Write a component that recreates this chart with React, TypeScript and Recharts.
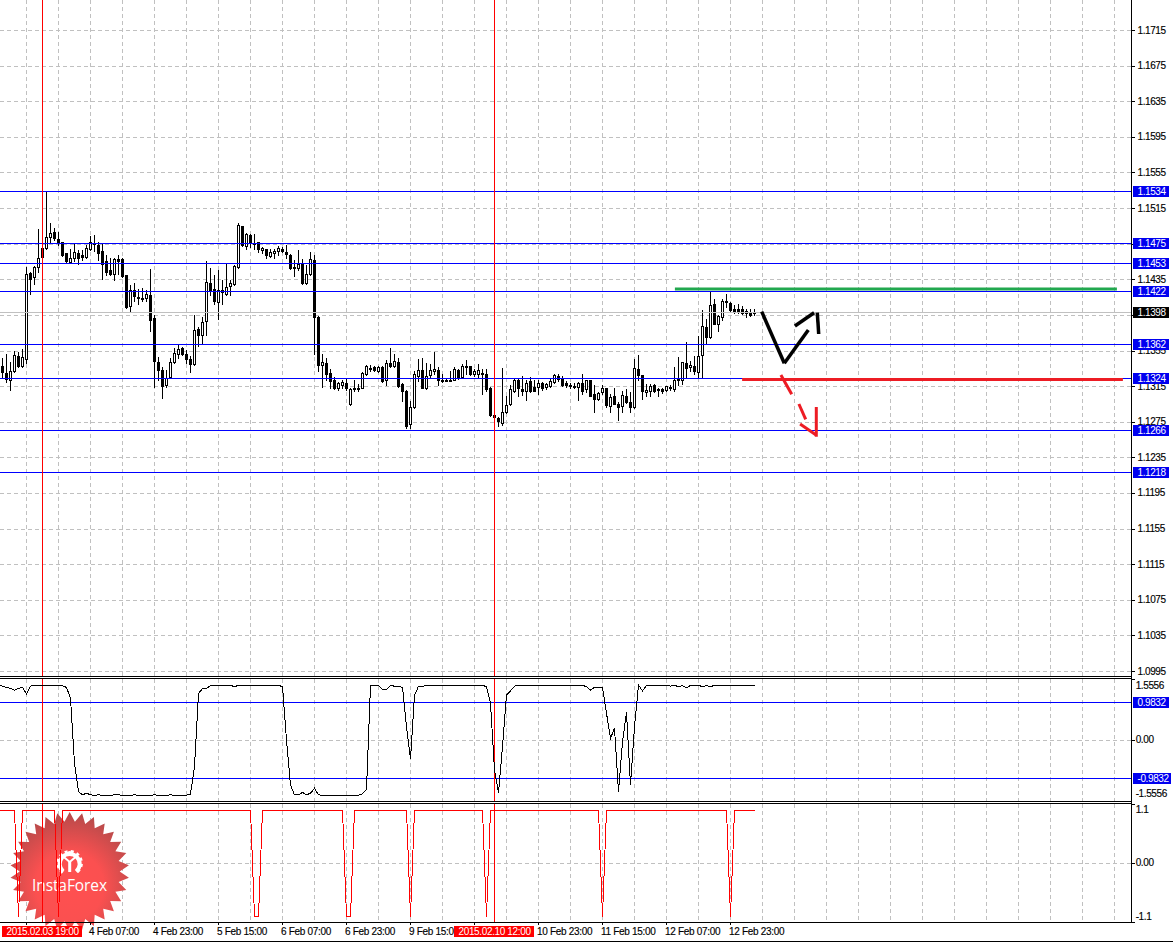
import React from "react";
import { Bar, CartesianGrid, ComposedChart, Line, LineChart, ReferenceLine, XAxis, YAxis } from "recharts";

// Hourly EUR/USD candles, in 1e-4 price units
const opens = [
  11338,11330,11323,11332,11349,11338,11346,11443,11438,11449,
  11471,11471,11483,11489,11481,11477,11465,11455,11460,11465,
  11463,11461,11470,11475,11474,11467,11456,11446,11441,11458,
  11458,11440,11406,11424,11416,11414,11415,11418,11392,11343,
  11334,11317,11326,11343,11352,11358,11352,11346,11340,11380,
  11373,11389,11431,11425,11410,11423,11419,11428,11430,11449,
  11495,11473,11485,11476,11477,11469,11470,11462,11465,11467,
  11470,11466,11463,11449,11448,11454,11431,11441,11457,11393,
  11339,11342,11330,11322,11314,11317,11319,11295,11313,11313,
  11314,11329,11336,11337,11333,11337,11322,11341,11338,11343,
  11318,11310,11273,11292,11327,11334,11313,11328,11332,11334,
  11323,11323,11323,11323,11334,11326,11338,11338,11329,11329,
  11330,11329,11314,11283,11280,11274,11286,11295,11310,11323,
  11312,11310,11321,11315,11315,11319,11315,11316,11320,11327,
  11325,11319,11317,11316,11315,11319,11312,11323,11307,11301,
  11309,11313,11293,11305,11295,11293,11305,11298,11292,11335,
  11328,11309,11310,11317,11312,11312,11311,11315,11312,11324,
  11322,11342,11337,11338,11331,11350,11382,11371,11408,11385,
  11393,11411,11409,11402,11402,11402,11400,11398,11399,
];
const closes = [
  11331,11324,11333,11350,11338,11348,11442,11436,11449,11460,
  11461,11483,11487,11482,11477,11463,11456,11460,11466,11460,
  11461,11471,11477,11476,11465,11453,11444,11441,11458,11456,
  11439,11404,11423,11417,11414,11413,11419,11390,11344,11334,
  11316,11325,11343,11353,11357,11352,11346,11340,11379,11373,
  11388,11432,11423,11411,11424,11421,11427,11431,11450,11496,
  11474,11486,11476,11476,11470,11471,11463,11466,11467,11471,
  11467,11464,11448,11448,11453,11431,11442,11458,11393,11339,
  11343,11329,11321,11313,11319,11320,11314,11312,11312,11312,
  11330,11338,11336,11334,11337,11321,11342,11338,11344,11316,
  11310,11271,11292,11329,11334,11314,11327,11334,11335,11323,
  11321,11322,11322,11335,11326,11338,11337,11329,11333,11334,
  11329,11312,11283,11281,11276,11287,11294,11312,11323,11313,
  11310,11319,11310,11310,11319,11313,11318,11321,11328,11324,
  11317,11317,11316,11315,11319,11310,11322,11305,11301,11308,
  11313,11294,11303,11296,11292,11306,11298,11292,11336,11328,
  11310,11311,11316,11310,11311,11310,11316,11313,11323,11322,
  11343,11336,11339,11332,11349,11383,11371,11407,11385,11394,
  11411,11410,11401,11400,11400,11398,11398,11395,11398,
];
const highs = [
  11347,11352,11343,11355,11354,11357,11449,11444,11450,11492,
  11471,11534,11499,11493,11489,11478,11465,11470,11476,11468,
  11468,11474,11484,11485,11478,11476,11463,11459,11459,11463,
  11460,11440,11429,11431,11425,11426,11424,11447,11396,11348,
  11337,11334,11347,11358,11362,11360,11356,11349,11395,11382,
  11393,11456,11448,11440,11446,11435,11453,11435,11452,11499,
  11495,11487,11486,11486,11478,11472,11470,11470,11470,11473,
  11472,11474,11464,11457,11468,11458,11452,11466,11463,11394,
  11352,11347,11335,11326,11320,11322,11324,11313,11323,11318,
  11331,11339,11339,11338,11338,11338,11345,11358,11352,11347,
  11319,11311,11299,11333,11346,11347,11342,11340,11354,11337,
  11329,11325,11333,11337,11335,11340,11345,11338,11335,11340,
  11335,11335,11315,11283,11281,11336,11305,11317,11325,11325,
  11327,11322,11326,11323,11322,11320,11319,11324,11329,11329,
  11327,11321,11319,11319,11320,11329,11323,11323,11317,11309,
  11317,11313,11307,11313,11298,11310,11312,11309,11346,11351,
  11328,11318,11318,11318,11313,11313,11316,11317,11337,11348,
  11343,11365,11344,11349,11372,11401,11391,11421,11413,11395,
  11413,11419,11410,11407,11408,11405,11402,11402,11402,
];
const lows = [
  11325,11320,11311,11331,11337,11337,11341,11419,11430,11444,
  11460,11470,11476,11480,11474,11462,11454,11454,11456,11453,
  11457,11460,11468,11467,11457,11436,11440,11440,11435,11442,
  11438,11403,11399,11411,11408,11411,11411,11378,11315,11323,
  11302,11315,11325,11342,11347,11350,11342,11331,11339,11361,
  11363,11373,11418,11408,11391,11408,11418,11418,11429,11448,
  11473,11470,11472,11470,11466,11465,11460,11461,11460,11463,
  11466,11460,11447,11439,11446,11430,11430,11440,11352,11332,
  11315,11322,11314,11312,11311,11314,11311,11294,11310,11310,
  11313,11328,11333,11332,11331,11320,11317,11337,11337,11315,
  11299,11269,11268,11291,11321,11313,11312,11325,11329,11317,
  11320,11322,11322,11322,11324,11325,11329,11328,11327,11326,
  11307,11310,11282,11280,11271,11272,11285,11294,11309,11305,
  11306,11300,11309,11310,11307,11311,11312,11315,11319,11321,
  11316,11315,11313,11313,11300,11307,11309,11304,11287,11300,
  11307,11292,11287,11295,11278,11286,11297,11286,11291,11322,
  11301,11305,11305,11309,11304,11308,11310,11311,11310,11317,
  11318,11325,11332,11329,11326,11326,11363,11370,11385,11377,
  11390,11404,11400,11398,11398,11397,11393,11394,11396,
];
const oscillatorBeforeFirstBar = 1.42;
const oscillator = [
  1.40,1.37,1.34,1.30,1.34,1.37,1.20,1.40,1.43,1.43,
  1.43,1.43,1.43,1.43,1.43,1.41,1.37,1.09,-0.60,-1.33,
  -1.41,-1.37,-1.41,-1.42,-1.41,-1.42,-1.42,-1.42,-1.41,-1.41,
  -1.42,-1.42,-1.42,-1.41,-1.42,-1.42,-1.42,-1.42,-1.41,-1.42,
  -1.42,-1.42,-1.41,-1.42,-1.42,-1.42,-1.42,-1.39,-0.68,1.21,
  1.34,1.34,1.42,1.42,1.42,1.42,1.41,1.42,1.39,1.42,
  1.42,1.42,1.42,1.42,1.42,1.42,1.41,1.42,1.42,1.42,
  1.39,0.01,-1.16,-1.41,-1.41,-1.35,-1.41,-1.37,-1.24,-1.41,
  -1.42,-1.42,-1.42,-1.42,-1.42,-1.42,-1.42,-1.42,-1.42,-1.42,
  -1.38,-1.27,1.42,1.42,1.42,1.32,1.32,1.42,1.40,1.40,
  1.37,0.34,-0.49,1.16,1.40,1.40,1.41,1.42,1.42,1.42,
  1.42,1.42,1.42,1.42,1.42,1.42,1.42,1.42,1.42,1.42,
  1.42,1.39,0.96,-0.77,-1.35,-0.16,1.17,1.28,1.40,1.42,
  1.42,1.42,1.42,1.42,1.42,1.42,1.42,1.42,1.42,1.42,
  1.42,1.42,1.42,1.42,1.42,1.42,1.39,1.30,1.37,1.37,
  1.37,0.70,0.05,0.31,-1.33,-0.04,0.72,-1.16,0.35,1.43,
  1.28,1.42,1.42,1.42,1.42,1.41,1.42,1.40,1.42,1.39,
  1.41,1.36,1.42,1.42,1.42,1.39,1.41,1.39,1.42,1.42,
  1.42,1.42,1.42,1.42,1.42,1.42,1.42,1.42,1.42,
];
const signalBeforeFirstBar = 1.1;
const signal = [
  1.1,1.1,1.1,1.1,-1.1,1.1,1.1,1.1,1.1,1.1,
  1.1,1.1,1.1,1.1,-1.1,1.1,1.1,1.1,1.1,1.1,
  1.1,1.1,1.1,1.1,1.1,1.1,1.1,1.1,1.1,1.1,
  1.1,1.1,1.1,1.1,1.1,1.1,1.1,1.1,1.1,1.1,
  1.1,1.1,1.1,1.1,1.1,1.1,1.1,1.1,1.1,1.1,
  1.1,1.1,1.1,1.1,1.1,1.1,1.1,1.1,1.1,1.1,
  1.1,1.1,1.1,-1.1,-1.1,1.1,1.1,1.1,1.1,1.1,
  1.1,1.1,1.1,1.1,1.1,1.1,1.1,1.1,1.1,1.1,
  1.1,1.1,1.1,1.1,1.1,1.1,-1.1,-1.1,1.1,1.1,
  1.1,1.1,1.1,1.1,1.1,1.1,1.1,1.1,1.1,1.1,
  1.1,1.1,-1.1,1.1,1.1,1.1,1.1,1.1,1.1,1.1,
  1.1,1.1,1.1,1.1,1.1,1.1,1.1,1.1,1.1,1.1,
  1.1,-1.1,1.1,1.1,1.1,1.1,1.1,1.1,1.1,1.1,
  1.1,1.1,1.1,1.1,1.1,1.1,1.1,1.1,1.1,1.1,
  1.1,1.1,1.1,1.1,1.1,1.1,1.1,1.1,1.1,1.1,
  -1.1,1.1,1.1,1.1,1.1,1.1,1.1,1.1,1.1,1.1,
  1.1,1.1,1.1,1.1,1.1,1.1,1.1,1.1,1.1,1.1,
  1.1,1.1,1.1,1.1,1.1,1.1,1.1,1.1,1.1,1.1,
  1.1,1.1,-1.1,1.1,1.1,1.1,1.1,1.1,1.1,
];

const priceTicks = [1.1715,1.1675,1.1635,1.1595,1.1555,1.1515,1.1475,1.1435,1.1395,1.1355,1.1315,1.1275,1.1235,1.1195,1.1155,1.1115,1.1075,1.1035,1.0995];
const coveredPriceTick = 1.1475;
const supportLevels = [1.1534,1.14758,1.1453,1.1422,1.1362,1.1324,1.1266,1.12185];
const lastPrice = 1.1398;
const oscLevels = [0.9832,-0.9832];
const oscTicks = [1.5556,0,-1.5556];
const signalTicks = [1.1,0,-1.1];
const gridBars = [6,14,22,30,38,46,54,62,70,78,86,94,102,110,118,126,134,142,150,158,166,174,182,190,198,206,214,222,230,238,246,254,262,270,278];
const timeBars = [6,22,38,54,70,86,102,118,134,150,166,182];
const timeLabels = ["","4 Feb 07:00","4 Feb 23:00","5 Feb 15:00","6 Feb 07:00","6 Feb 23:00","9 Feb 15:00","","10 Feb 23:00","11 Feb 15:00","12 Feb 07:00","12 Feb 23:00"];
const markerBars = [10,123];
const markerLabels = ["2015.02.03 19:00","2015.02.10 12:00"];

// Hand-drawn annotations: [bar, price] pairs
const greenLevel = [[168.1,1.14246],[278.6,1.14246]];
const redLevel = [[184.9,1.1323],[280.1,1.1323]];
const blackStrokes = [
  [[189.8,1.13992],[195.45,1.13412]],
  [[195.45,1.13412],[201.45,1.13786]],
  [[198.1,1.13831],[202.9,1.1398]],
  [[203.7,1.1398],[204.05,1.13741]],
];
const redStrokes = [
  [[194.6,1.1328],[197.3,1.13064]],
  [[199.1,1.12955],[200.8,1.12783]],
  [[199.4,1.1273],[203.4,1.12607]],
  [[203.45,1.12921],[203.45,1.12587]],
];

const candles = opens.map((open, k) => {
  const high = highs[k] / 10000;
  const low = lows[k] / 10000;
  return { k, open: open / 10000, close: closes[k] / 10000, high, low, range: [low, high] };
});
const oscRows = [{ k: -1, v: oscillatorBeforeFirstBar }, ...oscillator.map((v, k) => ({ k, v }))];
const signalRows = [{ k: -1, v: signalBeforeFirstBar }, ...signal.map((v, k) => ({ k, v }))];

const FONT = "'Liberation Sans', Arial, sans-serif";
const GRID = "#c0c0c0";
const BLUE = "#0000ff";
const RED = "#ff0000";
const X_DOMAIN: [number, number] = [-0.625, 282.125];
const W = 1173;

function Candle(props: any) {
  const { x, width, y, height, payload } = props;
  const c = Math.floor(x + width / 2) + 0.5;
  const top = Math.min(y, y + height);
  const h = Math.abs(height);
  const toY = (p: number) => top + ((payload.high - p) / (payload.high - payload.low)) * h;
  const up = payload.close > payload.open;
  const bodyTop = Math.round(toY(Math.max(payload.open, payload.close))) + 0.5;
  const bodyBot = Math.round(toY(Math.min(payload.open, payload.close))) + 0.5;
  return (
    <g shapeRendering="crispEdges">
      <line x1={c} x2={c} y1={Math.round(top)} y2={Math.round(top + h) + 1} stroke="#000" strokeWidth={1} />
      <rect x={c - 1} y={bodyTop} width={2} height={Math.max(bodyBot - bodyTop, 1)} fill={up ? "#fff" : "#000"} stroke="#000" strokeWidth={1} />
    </g>
  );
}

function axisTick(opts: { textX: number; tags: number[]; dark?: number; covered?: number; fmt: (v: number) => string; labelDy?: (v: number) => number; markDy?: (v: number) => number }) {
  return function Tick(props: any) {
    const { x, y, payload } = props;
    const v = payload.value;
    const isTag = opts.tags.includes(v);
    const isDark = opts.dark === v;
    const base = x;
    const text = opts.fmt(v);
    if (isTag || isDark) {
      const w = text.startsWith("-") ? 38 : 36;
      return (
        <g>
          <rect x={base + 2} y={Math.floor(y) - 5} width={w} height={11} fill={isDark ? "#000" : "#0000f0"} />
          <text x={base + 6.5} y={Math.floor(y) + 4} fill="#fff" fontFamily={FONT} fontSize={10} letterSpacing={-0.4}>{text}</text>
        </g>
      );
    }
    const my = Math.floor(y + (opts.markDy ? opts.markDy(v) : 0)) + 0.5;
    const ly = y + (opts.labelDy ? opts.labelDy(v) : 0);
    return (
      <g>
        <line x1={base + 1} x2={base + 4} y1={my} y2={my} stroke="#000" shapeRendering="crispEdges" />
        {opts.covered === v ? null : (
          <text x={base + opts.textX} y={ly + 3} fill="#000" stroke="#000" strokeWidth={0.15} fontFamily={FONT} fontSize={10} letterSpacing={-0.4}>{text}</text>
        )}
      </g>
    );
  };
}

const PriceTick = axisTick({ textX: 6.5, tags: supportLevels, dark: lastPrice, covered: coveredPriceTick, fmt: (v) => v.toFixed(5).slice(0, 6) });
const OscTick = axisTick({
  textX: 4.7,
  tags: oscLevels,
  fmt: (v) => (v === 0 ? "0.00" : v.toFixed(4)),
  labelDy: (v) => (v > 0 ? 6 : v < 0 ? -6 : 0),
  markDy: (v) => (v > 0 ? -1 : v < 0 ? 1 : 0),
});
const SignalTick = axisTick({
  textX: 4.7,
  tags: [],
  fmt: (v) => (v === 0 ? "0.00" : v.toFixed(1)),
  markDy: (v) => (v > 0 ? -6 : v < 0 ? 6 : 0),
});

function TimeTick(props: any) {
  const { x, y, payload } = props;
  const k = payload.value;
  const mi = markerBars.indexOf(k);
  if (mi >= 0) {
    return (
      <g>
        <rect x={x - 40.5} y={y + 4} width={80} height={11} fill={RED} />
        <text x={x - 36} y={y + 13} fill="#fff" fontFamily={FONT} fontSize={10} letterSpacing={-0.36}>{markerLabels[mi]}</text>
      </g>
    );
  }
  const ti = timeBars.indexOf(k);
  return (
    <g>
      <line x1={x} x2={x} y1={y} y2={y + 3} stroke="#000" shapeRendering="crispEdges" />
      {timeLabels[ti] ? (
        <text x={x - 1.5} y={y + 13} fill="#000" stroke="#000" strokeWidth={0.15} fontFamily={FONT} fontSize={10} letterSpacing={-0.3}>{timeLabels[ti]}</text>
      ) : null}
    </g>
  );
}

const NoTick = () => <g />;

function seg(s: number[][]) {
  return s.map(([x, y]) => ({ x, y }));
}

const hLine = (top: number, width = 1132, bg = "#000"): React.CSSProperties => ({ position: "absolute", left: 0, top, width, height: 1, background: bg });
const abs = (top: number): React.CSSProperties => ({ position: "absolute", left: 0, top });

function Logo() {
  const cx = 69.7;
  const cy = 871.5;
  const pts: string[] = [];
  const n = 30;
  for (let i = 0; i < n * 2; i++) {
    const r = i % 2 === 0 ? 59.5 : 50;
    const a = (i / (n * 2)) * Math.PI * 2 - Math.PI / 2;
    pts.push(`${(cx + r * Math.cos(a)).toFixed(1)},${(cy + r * Math.sin(a)).toFixed(1)}`);
  }
  return (
    <svg width={W} height={943} style={{ position: "absolute", left: 0, top: 0 }}>
      <defs>
        <radialGradient id="seal" gradientUnits="userSpaceOnUse" cx={cx} cy={886} r={76}>
          <stop offset="0" stopColor="#ff5050" />
          <stop offset="0.45" stopColor="#fb5050" />
          <stop offset="1" stopColor="#b04a4a" />
        </radialGradient>
      </defs>
      <polygon points={pts.join(" ")} fill="url(#seal)" />
      <g fill="none" stroke="#fff">
        <path d="M63.2 871.5 A10 10 0 1 1 76.2 871.5" strokeWidth={4} />
        <path d="M62.7 872.5 A11.7 11.7 0 1 1 76.7 872.5" strokeWidth={3} strokeDasharray="3 3" />
        <path d="M63.8 857 L69.7 862 L75.6 857" strokeWidth={2} />
        <path d="M69.7 862 L69.7 872" strokeWidth={3} />
      </g>
      <circle cx={cx} cy={853.5} r={2.6} fill="#fff" />
      <text x={32} y={891} textLength={75} fill="#fff" fontFamily="'Open Sans', Lato, sans-serif" fontSize={15.5}>InstaForex</text>
    </svg>
  );
}

export default function App() {
  return (
    <div style={{ position: "absolute", left: 0, top: 0, width: W, height: 943, background: "#fff", overflow: "hidden" }}>
      <div style={abs(804)}>
        <LineChart width={W} height={139} data={signalRows} margin={{ top: 0, right: 0, bottom: 0, left: 0 }}>
          <CartesianGrid stroke={GRID} strokeDasharray="4 3" horizontalValues={[0]} verticalValues={gridBars} shapeRendering="crispEdges" />
          <XAxis dataKey="k" type="number" domain={X_DOMAIN} allowDataOverflow ticks={gridBars} interval={0} height={21} tick={NoTick} axisLine={false} tickLine={false} />
          <YAxis orientation="right" width={42} type="number" domain={[-1.212, 1.225]} allowDataOverflow ticks={[0]} interval={0} tick={NoTick} axisLine={false} tickLine={false} />
          <Line dataKey="v" type="linear" stroke="none" strokeWidth={0} dot={false} isAnimationActive={false} />
        </LineChart>
      </div>
      <Logo />
      <div style={abs(0)}>
        <ComposedChart width={W} height={677} data={candles} margin={{ top: 0, right: 0, bottom: 0, left: 0 }}>
          <CartesianGrid stroke={GRID} strokeDasharray="4 3" horizontalValues={priceTicks} verticalValues={gridBars} shapeRendering="crispEdges" />
          <XAxis dataKey="k" type="number" domain={X_DOMAIN} allowDataOverflow ticks={gridBars} hide />
          <YAxis
            orientation="right"
            width={42}
            type="number"
            domain={[1.098885, 1.174926]}
            allowDataOverflow
            ticks={[...priceTicks, lastPrice, ...supportLevels]}
            interval={0}
            axisLine={false}
            tickLine={false}
            tickSize={0}
            tickMargin={0}
            tick={PriceTick}
          />
          <Bar dataKey="range" barSize={4} shape={Candle} isAnimationActive={false} />
          <ReferenceLine y={lastPrice} stroke={GRID} shapeRendering="crispEdges" />
          {supportLevels.map((y) => (
            <ReferenceLine key={y} y={y} stroke={BLUE} shapeRendering="crispEdges" />
          ))}
          {markerBars.map((x) => (
            <ReferenceLine key={x} x={x} stroke={RED} shapeRendering="crispEdges" />
          ))}
          <ReferenceLine segment={seg(greenLevel)} stroke="#22a84f" strokeWidth={3} />
          <ReferenceLine segment={seg(redLevel)} stroke="#ed1c24" strokeWidth={3} />
          {blackStrokes.map((s, i) => (
            <ReferenceLine key={i} segment={seg(s)} stroke="#000" strokeWidth={3.5} />
          ))}
          {redStrokes.map((s, i) => (
            <ReferenceLine key={i} segment={seg(s)} stroke="#ed1c24" strokeWidth={3} />
          ))}
        </ComposedChart>
      </div>
      <div style={abs(679)}>
        <LineChart width={W} height={122} data={oscRows} margin={{ top: 0, right: 0, bottom: 0, left: 0 }}>
          <CartesianGrid stroke={GRID} strokeDasharray="4 3" horizontalValues={[0]} verticalValues={gridBars} shapeRendering="crispEdges" />
          <XAxis dataKey="k" type="number" domain={X_DOMAIN} allowDataOverflow ticks={gridBars} hide />
          <YAxis
            orientation="right"
            width={42}
            type="number"
            domain={[-1.57, 1.586]}
            allowDataOverflow
            ticks={[...oscTicks, ...oscLevels]}
            interval={0}
            axisLine={false}
            tickLine={false}
            tickSize={0}
            tickMargin={0}
            tick={OscTick}
          />
          {oscLevels.map((y) => (
            <ReferenceLine key={y} y={y} stroke={BLUE} shapeRendering="crispEdges" />
          ))}
          {markerBars.map((x) => (
            <ReferenceLine key={x} x={x} stroke={RED} shapeRendering="crispEdges" />
          ))}
          <Line dataKey="v" type="linear" stroke="#000" strokeWidth={1} dot={false} isAnimationActive={false} shapeRendering="crispEdges" />
        </LineChart>
      </div>
      <div style={abs(804)}>
        <LineChart width={W} height={139} data={signalRows} margin={{ top: 0, right: 0, bottom: 0, left: 0 }}>
          <XAxis
            dataKey="k"
            type="number"
            domain={X_DOMAIN}
            allowDataOverflow
            ticks={[...timeBars, ...markerBars]}
            interval={0}
            height={21}
            axisLine={false}
            tickLine={false}
            tickSize={0}
            tickMargin={0}
            tick={TimeTick}
          />
          <YAxis
            orientation="right"
            width={42}
            type="number"
            domain={[-1.212, 1.225]}
            allowDataOverflow
            ticks={signalTicks}
            interval={0}
            axisLine={false}
            tickLine={false}
            tickSize={0}
            tickMargin={0}
            tick={SignalTick}
          />
          {markerBars.map((x) => (
            <ReferenceLine key={x} x={x} stroke={RED} shapeRendering="crispEdges" />
          ))}
          <Line dataKey="v" type="linear" stroke={RED} strokeWidth={1} dot={false} isAnimationActive={false} shapeRendering="crispEdges" />
        </LineChart>
      </div>
      <div style={hLine(676)} />
      <div style={hLine(678)} />
      <div style={hLine(801)} />
      <div style={hLine(803)} />
      <div style={hLine(922)} />
      <div style={hLine(941, W)} />
      <div style={{ position: "absolute", left: 1131, top: 0, width: 1, height: 923, background: "#000" }} />
    </div>
  );
}
